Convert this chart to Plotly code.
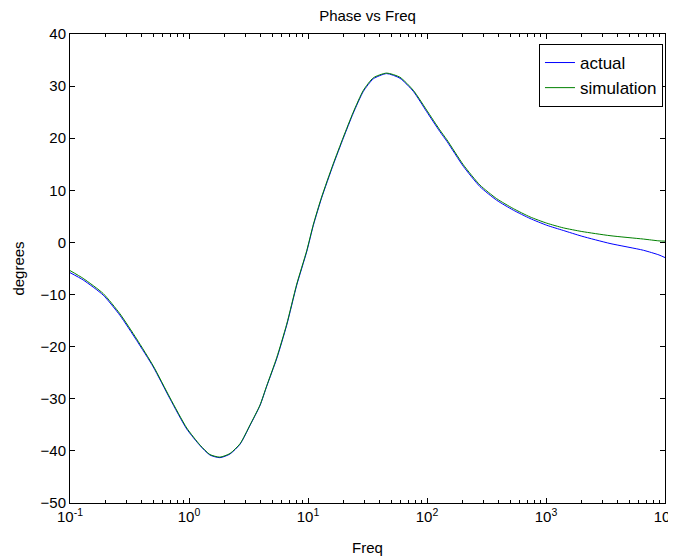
import plotly.graph_objects as go

# Frequencies (Hz)
freq = [0.1, 0.129, 0.19, 0.263, 0.363, 0.501, 0.692, 0.957, 1.24, 1.5, 1.82,
        2.21, 2.69, 3.26, 3.95, 4.5, 5.46, 6.62, 8.04, 9.75, 11.1, 13.0, 16.3,
        19.8, 24.0, 29.2, 35.4, 45.8, 59.3, 76.7, 99.3, 128, 147, 202, 279,
        385, 531, 734, 1014, 1397, 2000, 3450, 6580, 8900, 10000]

actual = [-5.8, -7.2, -10.1, -14.0, -18.8, -23.9, -30.0, -35.8, -39.0, -40.8, -41.3,
          -40.6, -38.7, -35.1, -31.3, -27.6, -22.3, -15.9, -8.2, -1.8, 3.3, 8.5, 14.9,
          20.0, 24.8, 29.0, 31.4, 32.4, 31.5, 29.0, 25.1, 21.3, 19.4, 14.6, 10.7,
          8.1, 6.2, 4.6, 3.3, 2.3, 1.2, -0.2, -1.5, -2.4, -2.9]

simulation = [-5.4, -6.9, -9.8, -13.7, -18.5, -23.7, -29.8, -35.6, -38.9, -40.7, -41.2,
              -40.5, -38.6, -35.0, -31.2, -27.5, -22.1, -15.7, -8.0, -1.6, 3.5, 8.7, 15.1,
              20.2, 25.0, 29.2, 31.6, 32.5, 31.7, 29.2, 25.4, 21.6, 19.7, 14.9, 11.0,
              8.4, 6.5, 4.9, 3.7, 2.8, 2.1, 1.3, 0.65, 0.3, 0.25]

x_tickvals = [0.1, 1, 10, 100, 1000, 10000]
x_ticktext = ["10<sup>-1</sup>", "10<sup>0</sup>", "10<sup>1</sup>",
              "10<sup>2</sup>", "10<sup>3</sup>", "10<sup>4</sup>"]
y_ticks = [-50, -40, -30, -20, -10, 0, 10, 20, 30, 40]

FONT = "Arial, Liberation Sans, sans-serif"

fig = go.Figure()
fig.add_trace(go.Scatter(x=freq, y=actual, mode="lines", name="actual",
                         line=dict(color="rgb(0,0,255)", width=1, shape="spline", smoothing=0.6)))
fig.add_trace(go.Scatter(x=freq, y=simulation, mode="lines", name="simulation",
                         line=dict(color="rgb(0,128,0)", width=1, shape="spline", smoothing=0.6)))

# the page body adds an 8px offset; margins compensate for it
fig.update_layout(
    width=676, height=558,
    margin=dict(l=62, r=19, t=26, b=63),
    paper_bgcolor="white", plot_bgcolor="white",
    font=dict(family=FONT, size=15, color="black"),
    title=dict(text="Phase vs Freq", x=(62 + 595 / 2) / 676, xref="container", xanchor="center",
               yref="container", y=1 - 8 / 558, yanchor="middle",
               font=dict(size=15, family=FONT)),
    showlegend=True,
    legend=dict(x=0.9966, y=0.9787, xanchor="right", yanchor="top",
                bgcolor="white", bordercolor="black", borderwidth=1,
                font=dict(size=17, family=FONT)),
)

fig.update_xaxes(
    type="log", range=[-1, 4], tickvals=x_tickvals, ticktext=x_ticktext,
    showgrid=False, zeroline=False, automargin=False,
    showline=True, linecolor="black", linewidth=1, mirror="allticks",
    ticks="inside", ticklen=5, tickcolor="black",
    minor=dict(ticks="inside", ticklen=3, tickcolor="black", dtick="D1", showgrid=False),
    title=dict(text="Freq", font=dict(size=15), standoff=18),
    tickfont=dict(size=15),
)
fig.update_yaxes(
    range=[-50, 40], tickvals=y_ticks,
    showgrid=False, zeroline=False, automargin=False,
    showline=True, linecolor="black", linewidth=1, mirror="allticks",
    ticks="inside", ticklen=5, tickcolor="black",
    title=dict(text="degrees", font=dict(size=15), standoff=12),
    tickfont=dict(size=15),
)

fig.write_html("out.html")
